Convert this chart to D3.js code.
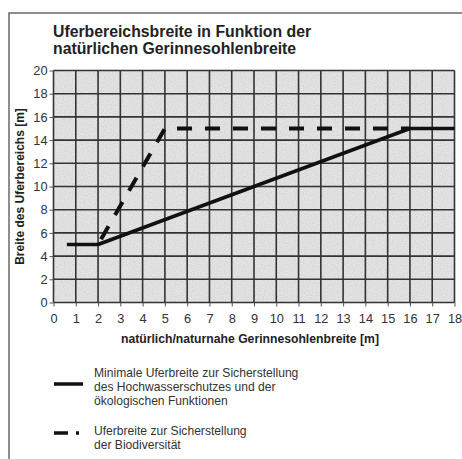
<!DOCTYPE html>
<html>
<head>
<meta charset="utf-8">
<script src="https://cdn.jsdelivr.net/npm/d3@7"></script>
<style>
  html, body { margin: 0; padding: 0; background: #fff; }
  svg { display: block; font-family: Arial, "Liberation Sans", sans-serif; }
</style>
</head>
<body>
<svg id="chart" width="462" height="459"></svg>
<script>
// ---- data ----
const titleLines = ["Uferbereichsbreite in Funktion der", "natürlichen Gerinnesohlenbreite"];
const xLabel = "natürlich/naturnahe Gerinnesohlenbreite [m]";
const yLabel = "Breite des Uferbereichs [m]";
const xTicks = [0,1,2,3,4,5,6,7,8,9,10,11,12,13,14,15,16,17,18];
const yTicks = [0,2,4,6,8,10,12,14,16,18,20];
// Minimale Uferbreite (solid)
const solidX = [0.6, 2, 16, 18];
const solidY = [5, 5, 15, 15];
// Uferbreite Biodiversität (dashed)
const dashX = [2, 5, 16];
const dashY = [5, 15, 15];
const legendSolid = ["Minimale Uferbreite zur Sicherstellung", "des Hochwasserschutzes und der", "ökologischen Funktionen"];
const legendDash = ["Uferbreite zur Sicherstellung", "der Biodiversität"];

// ---- layout ----
const svg = d3.select("#chart");
const plot = {left: 53.5, right: 454.5, top: 70.5, bottom: 302.5};
const x = d3.scaleLinear().domain([0, 18]).range([plot.left, plot.right]);
const y = d3.scaleLinear().domain([0, 20]).range([plot.bottom, plot.top]);

// outer frame
svg.append("rect").attr("x", 9).attr("y", 13).attr("width", 460).attr("height", 460)
  .attr("fill", "none").attr("stroke", "#6a6a6a").attr("stroke-width", 1.5);

// title
svg.append("g").selectAll("text").data(titleLines).join("text")
  .attr("x", 53).attr("y", (d, i) => 37 + i * 17)
  .attr("font-size", 15.8).attr("font-weight", "bold").attr("fill", "#222")
  .text(d => d);

// plot background with subtle texture
const defs = svg.append("defs");
const f = defs.append("filter").attr("id", "grain").attr("x", 0).attr("y", 0).attr("width", 1).attr("height", 1);
f.append("feTurbulence").attr("type", "fractalNoise").attr("baseFrequency", 0.9).attr("numOctaves", 1).attr("seed", 3).attr("result", "n");
f.append("feColorMatrix").attr("in", "n").attr("type", "matrix")
  .attr("values", "0 0 0 0 0.55  0 0 0 0 0.55  0 0 0 0 0.55  0 0 0 -1.2 0.75").attr("result", "g");
f.append("feComposite").attr("in", "g").attr("in2", "SourceGraphic").attr("operator", "in").attr("result", "gc");
f.append("feMerge").call(m => { m.append("feMergeNode").attr("in", "SourceGraphic"); m.append("feMergeNode").attr("in", "gc"); });

svg.append("rect")
  .attr("x", x(0)).attr("y", y(20)).attr("width", x(18) - x(0)).attr("height", y(0) - y(20))
  .attr("fill", "#e4e4e4").attr("filter", "url(#grain)");

// grid
const grid = svg.append("g").attr("stroke", "#333").attr("stroke-width", 1.6);
grid.selectAll("line.v").data(xTicks).join("line")
  .attr("x1", d => x(d)).attr("x2", d => x(d)).attr("y1", y(0)).attr("y2", y(20));
grid.selectAll("line.h").data(yTicks).join("line")
  .attr("y1", d => y(d)).attr("y2", d => y(d)).attr("x1", x(0)).attr("x2", x(18));

// axes
const yAxis = d3.axisLeft(y).tickValues(yTicks).tickSize(4).tickPadding(2);
const gy = svg.append("g").attr("transform", `translate(${x(0)},0)`).call(yAxis);
const xAxis = d3.axisBottom(x).tickValues(xTicks).tickSize(4).tickPadding(7);
const gx = svg.append("g").attr("transform", `translate(0,${y(0)})`).call(xAxis);
[gx, gy].forEach(g => {
  g.select(".domain").remove();
  g.selectAll(".tick line").attr("stroke", "#555").attr("stroke-width", 1);
  g.selectAll(".tick text").attr("font-size", 12.8).attr("fill", "#333")
    .attr("font-family", "Arial, 'Liberation Sans', sans-serif");
});

// axis titles
svg.append("text").attr("x", 250).attr("y", 343).attr("text-anchor", "middle")
  .attr("font-size", 12.2).attr("font-weight", "bold").attr("fill", "#222").text(xLabel);
svg.append("text").attr("transform", `translate(24,${(plot.top + plot.bottom) / 2}) rotate(-90)`)
  .attr("text-anchor", "middle").attr("font-size", 12).attr("font-weight", "bold").attr("fill", "#222").text(yLabel);

// lines
const line = d3.line().x(d => x(d[0])).y(d => y(d[1]));
svg.append("path").datum(dashX.map((v, i) => [v, dashY[i]]))
  .attr("d", line).attr("fill", "none").attr("stroke", "#111").attr("stroke-width", 4)
  .attr("stroke-dasharray", "15,13").attr("stroke-dashoffset", -6);
svg.append("path").datum(solidX.map((v, i) => [v, solidY[i]]))
  .attr("d", line).attr("fill", "none").attr("stroke", "#111").attr("stroke-width", 3.5)
  .attr("stroke-linejoin", "round");

// legend
const lg = svg.append("g");
lg.append("line").attr("x1", 54).attr("x2", 83).attr("y1", 384).attr("y2", 384)
  .attr("stroke", "#111").attr("stroke-width", 3.5);
lg.selectAll("text.s").data(legendSolid).join("text")
  .attr("x", 94).attr("y", (d, i) => 377 + i * 14)
  .attr("font-size", 12.1).attr("fill", "#333").text(d => d);
lg.append("line").attr("x1", 54).attr("x2", 68).attr("y1", 433).attr("y2", 433)
  .attr("stroke", "#111").attr("stroke-width", 3.5);
lg.append("line").attr("x1", 76).attr("x2", 79).attr("y1", 433).attr("y2", 433)
  .attr("stroke", "#111").attr("stroke-width", 3.5);
lg.selectAll("text.d").data(legendDash).join("text")
  .attr("x", 94).attr("y", (d, i) => 435 + i * 14)
  .attr("font-size", 12.1).attr("fill", "#333").text(d => d);
</script>
</body>
</html>
